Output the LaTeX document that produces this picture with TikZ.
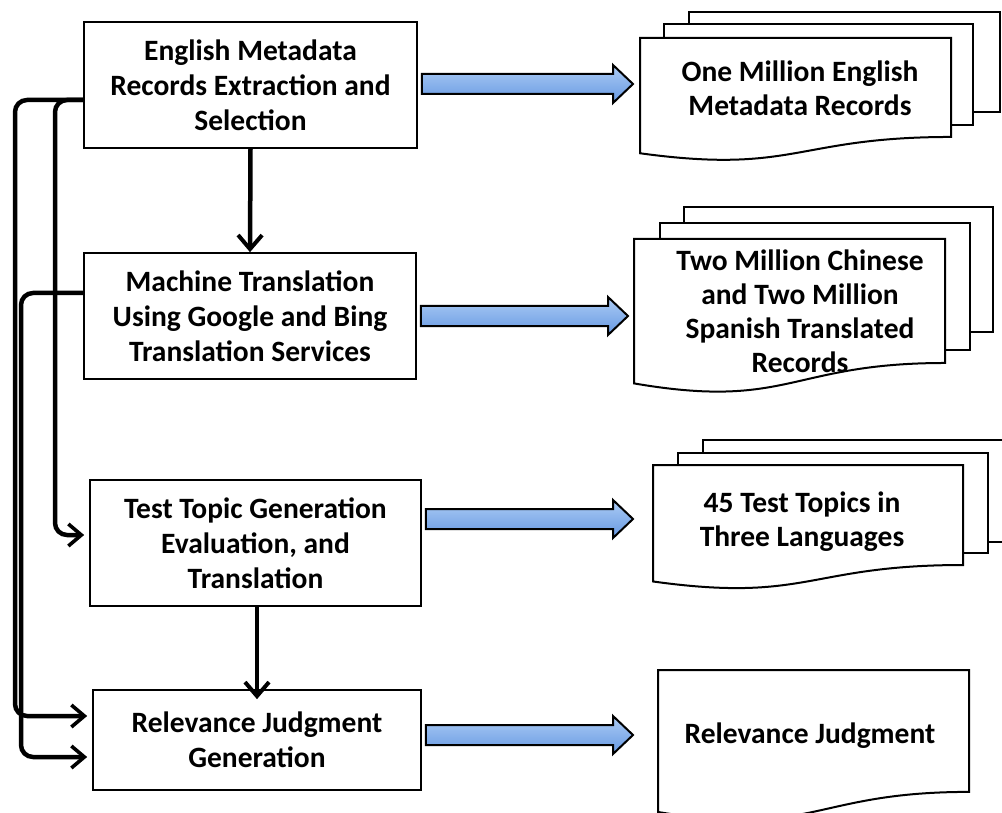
\documentclass[tikz,border=0pt]{standalone}
\usepackage{fontspec}
\setmainfont{Carlito}
\usetikzlibrary{arrows.meta,calc}
\definecolor{arrL}{RGB}{172,204,245}
\definecolor{arrD}{RGB}{102,152,226}
\newcommand\docpage[4]{%
  \draw[page] (#1,#2) -- (#3,#2) -- (#3,{#2+0.802*#4})
    .. controls ({(#1+#3)/2},{#2+0.802*#4}) and ({(#1+#3)/2},{#2+1.107*#4}) ..
    (#1,{#2+0.934*#4}) -- cycle;}
\newcommand\flowarrow[2]{%
  \path[flow] let \p1=(#1), \p2=(#2) in
    (\x1+4pt,\y2+10pt) -- (\x2-20pt,\y2+10pt) -- (\x2-20pt,\y2+19pt) -- (\x2,\y2)
    -- (\x2-20pt,\y2-19pt) -- (\x2-20pt,\y2-10pt) -- (\x1+4pt,\y2-10pt) -- cycle;}
\begin{document}
\begin{tikzpicture}[x=1pt,y=-1pt,
  box/.style={draw, line width=1.7pt, fill=white, align=center,
    font=\fontsize{29.5}{35}\selectfont\bfseries, inner sep=0pt},
  txt/.style={align=center, font=\fontsize{29.5}{34}\selectfont\bfseries, inner sep=0pt},
  page/.style={draw, line width=2pt, fill=white, line join=miter},
  conn/.style={line width=4.5pt, rounded corners=12pt,
    -{Straight Barb[length=13pt,width=22pt,line width=3.6pt]}},
  down/.style={line width=4.5pt,
    -{Straight Barb[length=14pt,width=24pt,line width=4pt]}},
  flow/.style={draw, line width=2pt, line join=miter, top color=arrL, bottom color=arrD}
]
\useasboundingbox (0,0) rectangle (1002,813);
\clip (0,0) rectangle (1002,813);
\fill[white] (0,0) rectangle (1002,813);

% process boxes
\node[box, minimum width=333pt, minimum height=126pt] (b1) at (250.5,85)
  {English Metadata\\Records Extraction and\\Selection};
\node[box, minimum width=332pt, minimum height=126pt] (b2) at (250,316)
  {Machine Translation\\Using Google and Bing\\Translation Services};
\node[box, minimum width=331pt, minimum height=126pt] (b3) at (255.5,543)
  {Test Topic Generation\\Evaluation, and\\Translation};
\node[box, minimum width=328pt, minimum height=100pt] (b4) at (257,740)
  {Relevance Judgment\\Generation};

% document stacks
\draw[page] (689,12) rectangle (1000,112);
\draw[page] (664,24) rectangle (973,125);
\docpage{640}{38}{951}{123.4}
\node[txt] (d1) at (800,88) {One Million English\\Metadata Records};

\draw[page] (684,207) rectangle (993,332);
\draw[page] (660,223) rectangle (970,350);
\docpage{634}{239}{945}{154.6}
\node[txt] (d2) at (800,311) {Two Million Chinese\\and Two Million\\Spanish Translated\\Records};

\draw[page] (703,440) rectangle (1012,542);
\draw[page] (678,453) rectangle (988,553);
\docpage{653}{465}{963}{124.7}
\node[txt] (d3) at (802,522) {45 Test Topics in\\Three Languages};

\docpage{658}{670}{969}{152}
\node[txt] (d4) at (810,736) {Relevance Judgment};

% blue flow arrows
\coordinate (t1) at (633,84);
\coordinate (t2) at (628,316);
\coordinate (t3) at (633,519);
\coordinate (t4) at (633,735);
\flowarrow{b1.east}{t1}
\flowarrow{b2.east}{t2}
\flowarrow{b3.east}{t3}
\flowarrow{b4.east}{t4}

% vertical flow
\draw[down] (b1.south) -- (b2.north);
\draw[down] (b3.south -| b4.north) -- ([yshift=-10pt]b4.north);

% left connectors
\coordinate (cA) at (15,400);
\coordinate (cB) at (55,400);
\coordinate (cC) at (21,500);
\draw[conn] ([yshift=-15pt]b1.west) -| (cA) |- ([yshift=24pt,xshift=-5pt]b4.west);
\draw[conn] ([yshift=-15pt]b1.west) -| (cB) |- ([yshift=8pt,xshift=-5pt]b3.west);
\draw[conn] ([yshift=23pt]b2.west) -| (cC) |- ([yshift=-17pt,xshift=-5pt]b4.west);
\end{tikzpicture}
\end{document}
